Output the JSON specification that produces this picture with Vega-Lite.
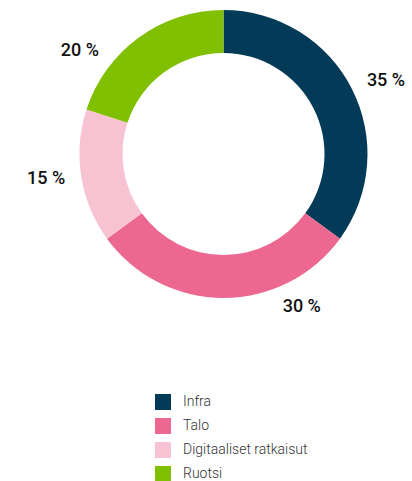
{
  "$schema": "https://vega.github.io/schema/vega-lite/v6.json",
  "autosize": "none",
  "width": 377,
  "height": 308,
  "padding": {"left": 35, "top": 0, "right": 0, "bottom": 173},
  "background": "white",
  "config": {"view": {"stroke": null}},
  "data": {
    "values": [
      {"segment": "Infra", "share": 35, "label": "35 %", "i": 1},
      {"segment": "Talo", "share": 30, "label": "30 %", "i": 2},
      {"segment": "Digitaaliset ratkaisut", "share": 15, "label": "15 %", "i": 3},
      {"segment": "Ruotsi", "share": 20, "label": "20 %", "i": 4}
    ]
  },
  "transform": [
    {"stack": "share", "groupby": [], "sort": [{"field": "i", "order": "ascending"}], "as": ["s0", "s1"]}
  ],
  "layer": [
    {
      "mark": {"type": "arc", "outerRadius": 144, "innerRadius": 101},
      "encoding": {
        "theta": {"field": "s0", "type": "quantitative", "scale": {"domain": [0, 100]}},
        "theta2": {"field": "s1"},
        "color": {
          "field": "segment",
          "type": "nominal",
          "sort": ["Infra", "Talo", "Digitaaliset ratkaisut", "Ruotsi"],
          "scale": {
            "domain": ["Infra", "Talo", "Digitaaliset ratkaisut", "Ruotsi"],
            "range": ["#023a57", "#ec6891", "#f7c2d2", "#80c000"]
          },
          "legend": {
            "title": null,
            "orient": "none",
            "legendX": 120,
            "legendY": 394,
            "symbolType": "square",
            "symbolSize": 256,
            "symbolStrokeWidth": 0,
            "rowPadding": 8,
            "labelOffset": 12,
            "labelFont": "Roboto",
            "labelFontSize": 14,
            "labelFontWeight": 300,
            "labelColor": "#333333",
            "labelLimit": 300
          }
        }
      }
    },
    {
      "transform": [{"filter": "datum.segment === 'Infra'"}],
      "mark": {"type": "text", "radius": 178, "thetaOffset": 1.15, "font": "Roboto", "fontSize": 18, "fontWeight": 500, "color": "#111111"},
      "encoding": {"theta": {"field": "s0", "type": "quantitative"}, "text": {"field": "label"}}
    },
    {
      "transform": [{"filter": "datum.segment === 'Talo'"}],
      "mark": {"type": "text", "radius": 172, "thetaOffset": 0.47, "font": "Roboto", "fontSize": 18, "fontWeight": 500, "color": "#111111"},
      "encoding": {"theta": {"field": "s0", "type": "quantitative"}, "text": {"field": "label"}}
    },
    {
      "transform": [{"filter": "datum.segment === 'Digitaaliset ratkaisut'"}],
      "mark": {"type": "text", "radius": 179, "thetaOffset": 0.49, "font": "Roboto", "fontSize": 18, "fontWeight": 500, "color": "#111111"},
      "encoding": {"theta": {"field": "s0", "type": "quantitative"}, "text": {"field": "label"}}
    },
    {
      "transform": [{"filter": "datum.segment === 'Ruotsi'"}],
      "mark": {"type": "text", "radius": 177, "thetaOffset": 0.31, "font": "Roboto", "fontSize": 18, "fontWeight": 500, "color": "#111111"},
      "encoding": {"theta": {"field": "s0", "type": "quantitative"}, "text": {"field": "label"}}
    }
  ]
}
